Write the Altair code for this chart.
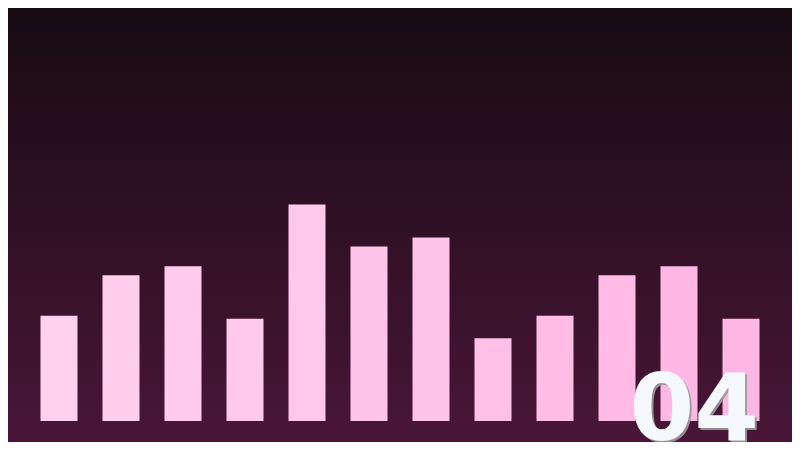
import altair as alt
import pandas as pd

categories = ["01", "02", "03", "04", "05", "06", "07", "08", "09", "10", "11", "12"]
values = [35, 48.5, 51.5, 34, 72, 58, 61, 27.5, 35, 48.5, 51.5, 34]
shade = list(range(12))
label = ["04"]

bars_df = pd.DataFrame({"cat": categories, "value": values, "shade": shade})
label_df = pd.DataFrame({"label": label})
bg_df = pd.DataFrame({"k": [0]})

W, H = 784, 434

bg = alt.Chart(bg_df).mark_rect(
    color=alt.LinearGradient(
        gradient="linear", x1=0, y1=0, x2=0, y2=1,
        stops=[alt.GradientStop(color="#170b11", offset=0),
               alt.GradientStop(color="#491638", offset=1)],
    )
).encode(x=alt.value(0), x2=alt.value(W), y=alt.value(0), y2=alt.value(H))

bars = alt.Chart(bars_df).mark_bar().encode(
    x=alt.X("cat:N", sort=None, axis=None,
            scale=alt.Scale(paddingInner=25 / 62, paddingOuter=0.524)),
    y=alt.Y("value:Q", axis=None, scale=alt.Scale(domain=[0, 140], range=[413, -8])),
    color=alt.Color("shade:Q", legend=None,
                    scale=alt.Scale(domain=[0, 11], range=["#ffd0ee", "#ffb6e3"])),
)

shadow = alt.Chart(label_df).mark_text(
    font="DejaVu Sans", fontWeight="bold", fontSize=93, align="right",
    baseline="alphabetic", color="#9a9a9a", opacity=0.9, dx=2, dy=2,
).encode(x=alt.value(751), y=alt.value(431.5), text="label:N")

text = alt.Chart(label_df).mark_text(
    font="DejaVu Sans", fontWeight="bold", fontSize=93, align="right",
    baseline="alphabetic", color="#f5f8fc",
).encode(x=alt.value(751), y=alt.value(431.5), text="label:N")

chart = alt.layer(bg, bars, shadow, text).resolve_scale(color="independent").properties(
    width=W, height=H, padding=0, autosize="none",
).configure_view(stroke=None).configure(background="#170b11")

chart.save("out.html", embed_options={"renderer": "svg", "actions": False})
